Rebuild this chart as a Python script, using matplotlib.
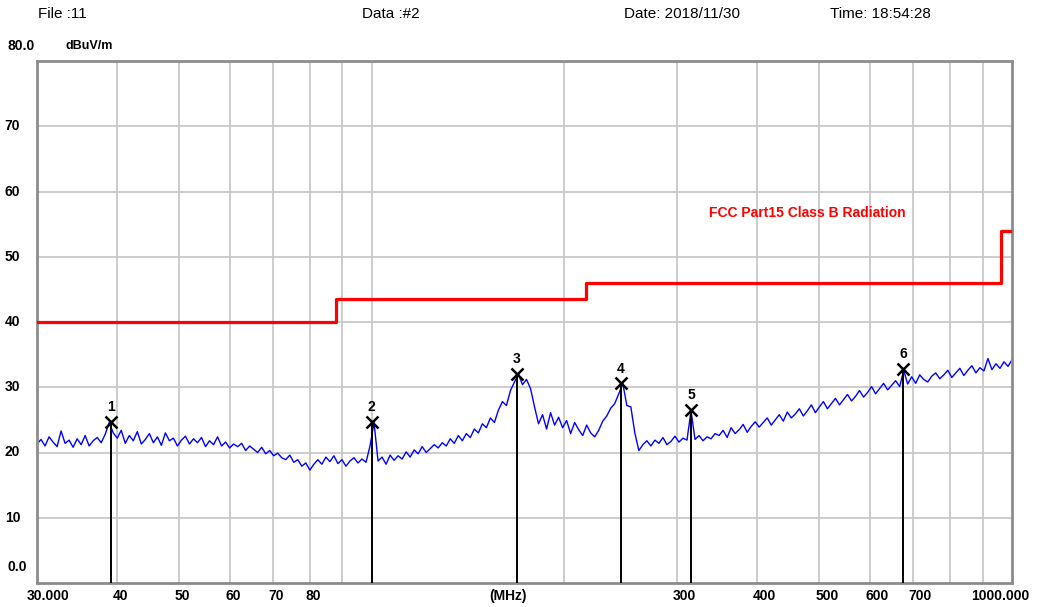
import numpy as np
import matplotlib
matplotlib.use("Agg")
import matplotlib.pyplot as plt

# measured trace (dBuV/m), sweep 30 MHz .. 1000 MHz, log spaced points
levels = [
    21.3, 22.0, 21.0, 22.4, 21.6, 20.9, 23.3, 21.4, 21.9, 20.8,
    22.1, 21.2, 22.6, 21.0, 21.8, 22.3, 21.5, 22.8, 24.6, 23.0,
    22.2, 23.4, 21.4, 22.6, 21.8, 23.2, 21.3, 22.0, 22.9, 21.5,
    22.4, 21.1, 23.0, 21.8, 22.2, 21.0, 21.9, 22.5, 21.3, 22.1,
    21.5, 22.3, 20.9, 21.8, 21.2, 22.4, 21.0, 21.6, 20.7, 21.3,
    20.9, 21.4, 20.3, 21.0, 20.5, 20.0, 20.8, 19.8, 20.3, 19.5,
    19.9, 19.2, 18.9, 19.6, 18.5, 18.9, 17.9, 18.4, 17.3, 18.2,
    18.9, 18.2, 19.3, 18.6, 19.5, 18.3, 18.9, 17.9, 18.7, 19.2,
    18.4, 19.0, 18.5, 21.0, 24.6, 18.7, 19.3, 18.2, 19.6, 18.8,
    19.5, 19.0, 20.1, 19.3, 20.4, 19.8, 20.9, 20.0, 20.6, 21.2,
    20.7, 21.5, 21.0, 22.1, 21.4, 22.6, 21.8, 22.9, 22.3, 23.6,
    23.0, 24.4, 23.8, 25.3, 24.6, 26.5, 27.8, 27.2, 29.5, 30.8,
    32.0, 30.4, 31.2, 29.8, 27.0, 24.4, 25.8, 23.6, 26.1, 24.2,
    25.4, 23.8, 24.9, 22.9, 24.6, 23.5, 22.6, 24.2, 23.0, 22.4,
    23.4, 24.8, 25.6, 26.8, 27.5, 29.0, 30.6, 27.2, 27.0, 23.0,
    20.3, 21.2, 21.8, 21.0, 21.9, 21.4, 22.3, 21.2, 21.7, 22.5,
    21.6, 22.2, 21.9, 26.4, 22.0, 22.6, 21.8, 22.4, 22.1, 22.9,
    22.6, 23.4, 22.3, 23.8, 22.9, 23.5, 24.3, 23.1, 24.0, 24.7,
    23.9, 24.6, 25.3, 24.2, 25.0, 25.8, 24.8, 26.2, 25.3, 25.9,
    26.7, 25.6, 26.4, 27.3, 26.1, 27.0, 27.8, 26.7, 27.5, 28.3,
    27.3, 28.1, 28.9, 27.9, 28.6, 29.5, 28.5, 29.2, 30.1, 29.0,
    29.8, 30.6, 29.6, 30.3, 31.0, 30.1, 32.6, 30.5, 31.6, 30.6,
    31.9, 31.2, 30.8, 31.7, 32.2, 31.3, 31.9, 32.6, 31.5, 32.2,
    32.9, 31.8, 32.6, 33.3, 32.2, 33.0, 32.5, 34.4, 32.7, 33.6,
    32.9, 33.9, 33.2, 34.2,
]
f_start, f_stop = 30.0, 1000.0
freqs = np.geomspace(f_start, f_stop, len(levels))

# FCC Part15 class B limit (step edges)
limit_f = [30, 88, 88, 216, 216, 960, 960, 1000]
limit_db = [40, 40, 43.5, 43.5, 46, 46, 54, 54]

# markers
marker_f = [39.1, 100.0, 168.5, 245.0, 315.5, 676.0]
marker_db = [24.7, 24.7, 32.0, 30.6, 26.5, 32.8]

grid_f = [40, 50, 60, 70, 80, 90, 100, 200, 300, 400, 500, 600, 700, 800, 900]
xlabels = [40, 50, 60, 70, 80, 300, 400, 500, 600, 700]
ylabels = [10, 20, 30, 40, 50, 60, 70]

W, H = 1044, 607
fig = plt.figure(figsize=(W / 100, H / 100), dpi=100)
L, R, T, B = 37, 1012, 61, 583
ax = fig.add_axes([L / W, 1 - B / H, (R - L) / W, (B - T) / H])

ax.set_xscale("log")
ax.set_xlim(f_start, f_stop)
ax.set_ylim(0, 80)

for g in grid_f:
    ax.axvline(g, color="#c8c8c8", lw=1.3, zorder=0)
for g in ylabels:
    ax.axhline(g, color="#c8c8c8", lw=1.3, zorder=0)

ax.plot(freqs, levels, color="#0000ff", lw=1.0, zorder=2)
ax.plot(limit_f, limit_db, color="#ff0000", lw=2.3, zorder=3)

for i, (mf, md) in enumerate(zip(marker_f, marker_db)):
    ax.plot([mf, mf], [0, md], color="black", lw=1.4, zorder=4)
    ax.plot(mf, md, marker="x", ms=8, mew=1.8, color="black", zorder=5)
    ax.text(mf, md + 1.2, str(i + 1), ha="center", va="bottom",
            fontsize=10, fontweight="bold", family="Liberation Sans", zorder=5)

ax.text(336, 56.7, "FCC Part15 Class B Radiation", color="#ff0000",
        va="center", fontsize=10, fontweight="bold", family="Liberation Sans")

ax.set_xticks([])
ax.set_yticks([])
ax.xaxis.set_minor_locator(matplotlib.ticker.NullLocator())
for s in ax.spines.values():
    s.set_color("#8c8c8c")
    s.set_linewidth(2)

lab = dict(fontsize=10, fontweight="bold", family="Liberation Sans")
tr_x = ax.get_xaxis_transform()
for v in xlabels:
    ax.text(v * 0.985, -0.012, str(v), transform=tr_x, ha="left", va="top", **lab)
fig.text(48 / W, 1 - 596 / H, "30.000", ha="center", va="center", **lab)
fig.text(1000 / W, 1 - 596 / H, "1000.000", ha="center", va="center", **lab)
fig.text(508 / W, 1 - 596 / H, "(MHz)", ha="center", va="center", **lab)

tr_y = ax.get_yaxis_transform()
for v in ylabels:
    ax.text(-0.033, v, str(v), transform=tr_y, ha="left", va="center", **lab)
fig.text(8 / W, 1 - 567 / H, "0.0", ha="left", va="center", **lab)
fig.text(8 / W, 1 - 46 / H, "80.0", ha="left", va="center", **lab)
fig.text(66 / W, 1 - 46 / H, "dBuV/m", ha="left", va="center",
         fontsize=9, fontweight="bold", family="Liberation Sans")

hdr = dict(fontsize=11, family="Liberation Sans", va="center", ha="left")
fig.text(38 / W, 1 - 14 / H, "File :11", **hdr)
fig.text(362 / W, 1 - 14 / H, "Data :#2", **hdr)
fig.text(624 / W, 1 - 14 / H, "Date: 2018/11/30", **hdr)
fig.text(830 / W, 1 - 14 / H, "Time: 18:54:28", **hdr)

fig.savefig("out.png", dpi=100)
